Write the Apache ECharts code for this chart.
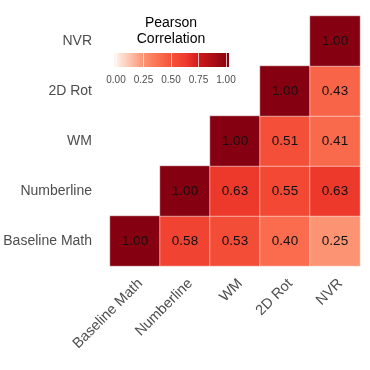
<!DOCTYPE html>
<html><head><meta charset="utf-8">
<script src="https://cdn.jsdelivr.net/npm/echarts@6/dist/echarts.min.js"></script>
<style>html,body{margin:0;padding:0;background:#fff}#c{width:370px;height:370px}</style>
</head><body><div id="c"></div>
<script>
var categories = ['Baseline Math', 'Numberline', 'WM', '2D Rot', 'NVR'];
// rows by y category (bottom to top); null = not shown
var rowBaselineMath = [1.00, 0.58, 0.53, 0.40, 0.25];
var rowNumberline   = [null, 1.00, 0.63, 0.55, 0.63];
var rowWM           = [null, null, 1.00, 0.51, 0.41];
var row2DRot        = [null, null, null, 1.00, 0.43];
var rowNVR          = [null, null, null, null, 1.00];
var legendTicks = [0, 0.25, 0.5, 0.75, 1];
var legendTitle = 'Pearson\nCorrelation';

var palette = ['#FFF5F0', '#FDC9B3', '#FC9474', '#FB7252', '#F5523A', '#EE3A2C', '#CB181D', '#A50F15', '#850010'];

var rows = [rowBaselineMath, rowNumberline, rowWM, row2DRot, rowNVR];
var data = [];
rows.forEach(function (r, y) {
  r.forEach(function (v, x) { if (v !== null) data.push([x, y, v]); });
});

var font = 'Liberation Sans, Arial, sans-serif';
var chart = echarts.init(document.getElementById('c'), null, {renderer: 'canvas'});
var stops = palette.map(function (c, i) { return {offset: i / (palette.length - 1), color: c}; });

chart.setOption({
  backgroundColor: '#fff',
  animation: false,
  textStyle: {fontFamily: font},
  grid: [
    {left: 110, top: 16, width: 250, height: 250},
    {left: 116, top: 53, width: 110, height: 14}
  ],
  xAxis: [
    {type: 'category', gridIndex: 0, data: categories,
     axisLine: {show: false}, axisTick: {show: false}, splitLine: {show: false},
     axisLabel: {rotate: 45, fontSize: 14.5, color: '#4D4D4D', margin: 10, fontFamily: font,
       align: 'right', verticalAlign: 'top'}},
    {type: 'value', gridIndex: 1, min: 0, max: 1, interval: 0.25, z: 10,
     axisLine: {show: false}, axisTick: {show: false},
     splitLine: {show: true, lineStyle: {color: 'rgba(255,255,255,0.7)', width: 1}},
     axisLabel: {fontSize: 10, color: '#4D4D4D', margin: 8, fontFamily: font,
       formatter: function (v) { return v.toFixed(2); }}}
  ],
  yAxis: [
    {type: 'category', gridIndex: 0, data: categories,
     axisLine: {show: false}, axisTick: {show: false}, splitLine: {show: false},
     axisLabel: {fontSize: 14, color: '#4D4D4D', margin: 18, fontFamily: font}},
    {type: 'value', gridIndex: 1, show: false, min: 0, max: 1}
  ],
  visualMap: {show: false, min: 0, max: 1, seriesIndex: 0, inRange: {color: palette}},
  series: [{
    type: 'heatmap', xAxisIndex: 0, yAxisIndex: 0, data: data,
    itemStyle: {borderColor: 'rgba(255,255,255,0.5)', borderWidth: 1},
    label: {show: true, color: '#111', fontSize: 13.5, fontFamily: font,
      formatter: function (p) { return p.value[2].toFixed(2); }},
    emphasis: {disabled: true}
  }],
  graphic: [
    {type: 'rect', z: 1, shape: {x: 114, y: 53, width: 115, height: 14},
     style: {fill: new echarts.graphic.LinearGradient(0, 0, 1, 0, stops)}},
    {type: 'text', z: 1, x: 171, y: 15,
     style: {text: legendTitle, font: '14px ' + font, fill: '#000', textAlign: 'center', lineHeight: 16}}
  ]
});
</script></body></html>
